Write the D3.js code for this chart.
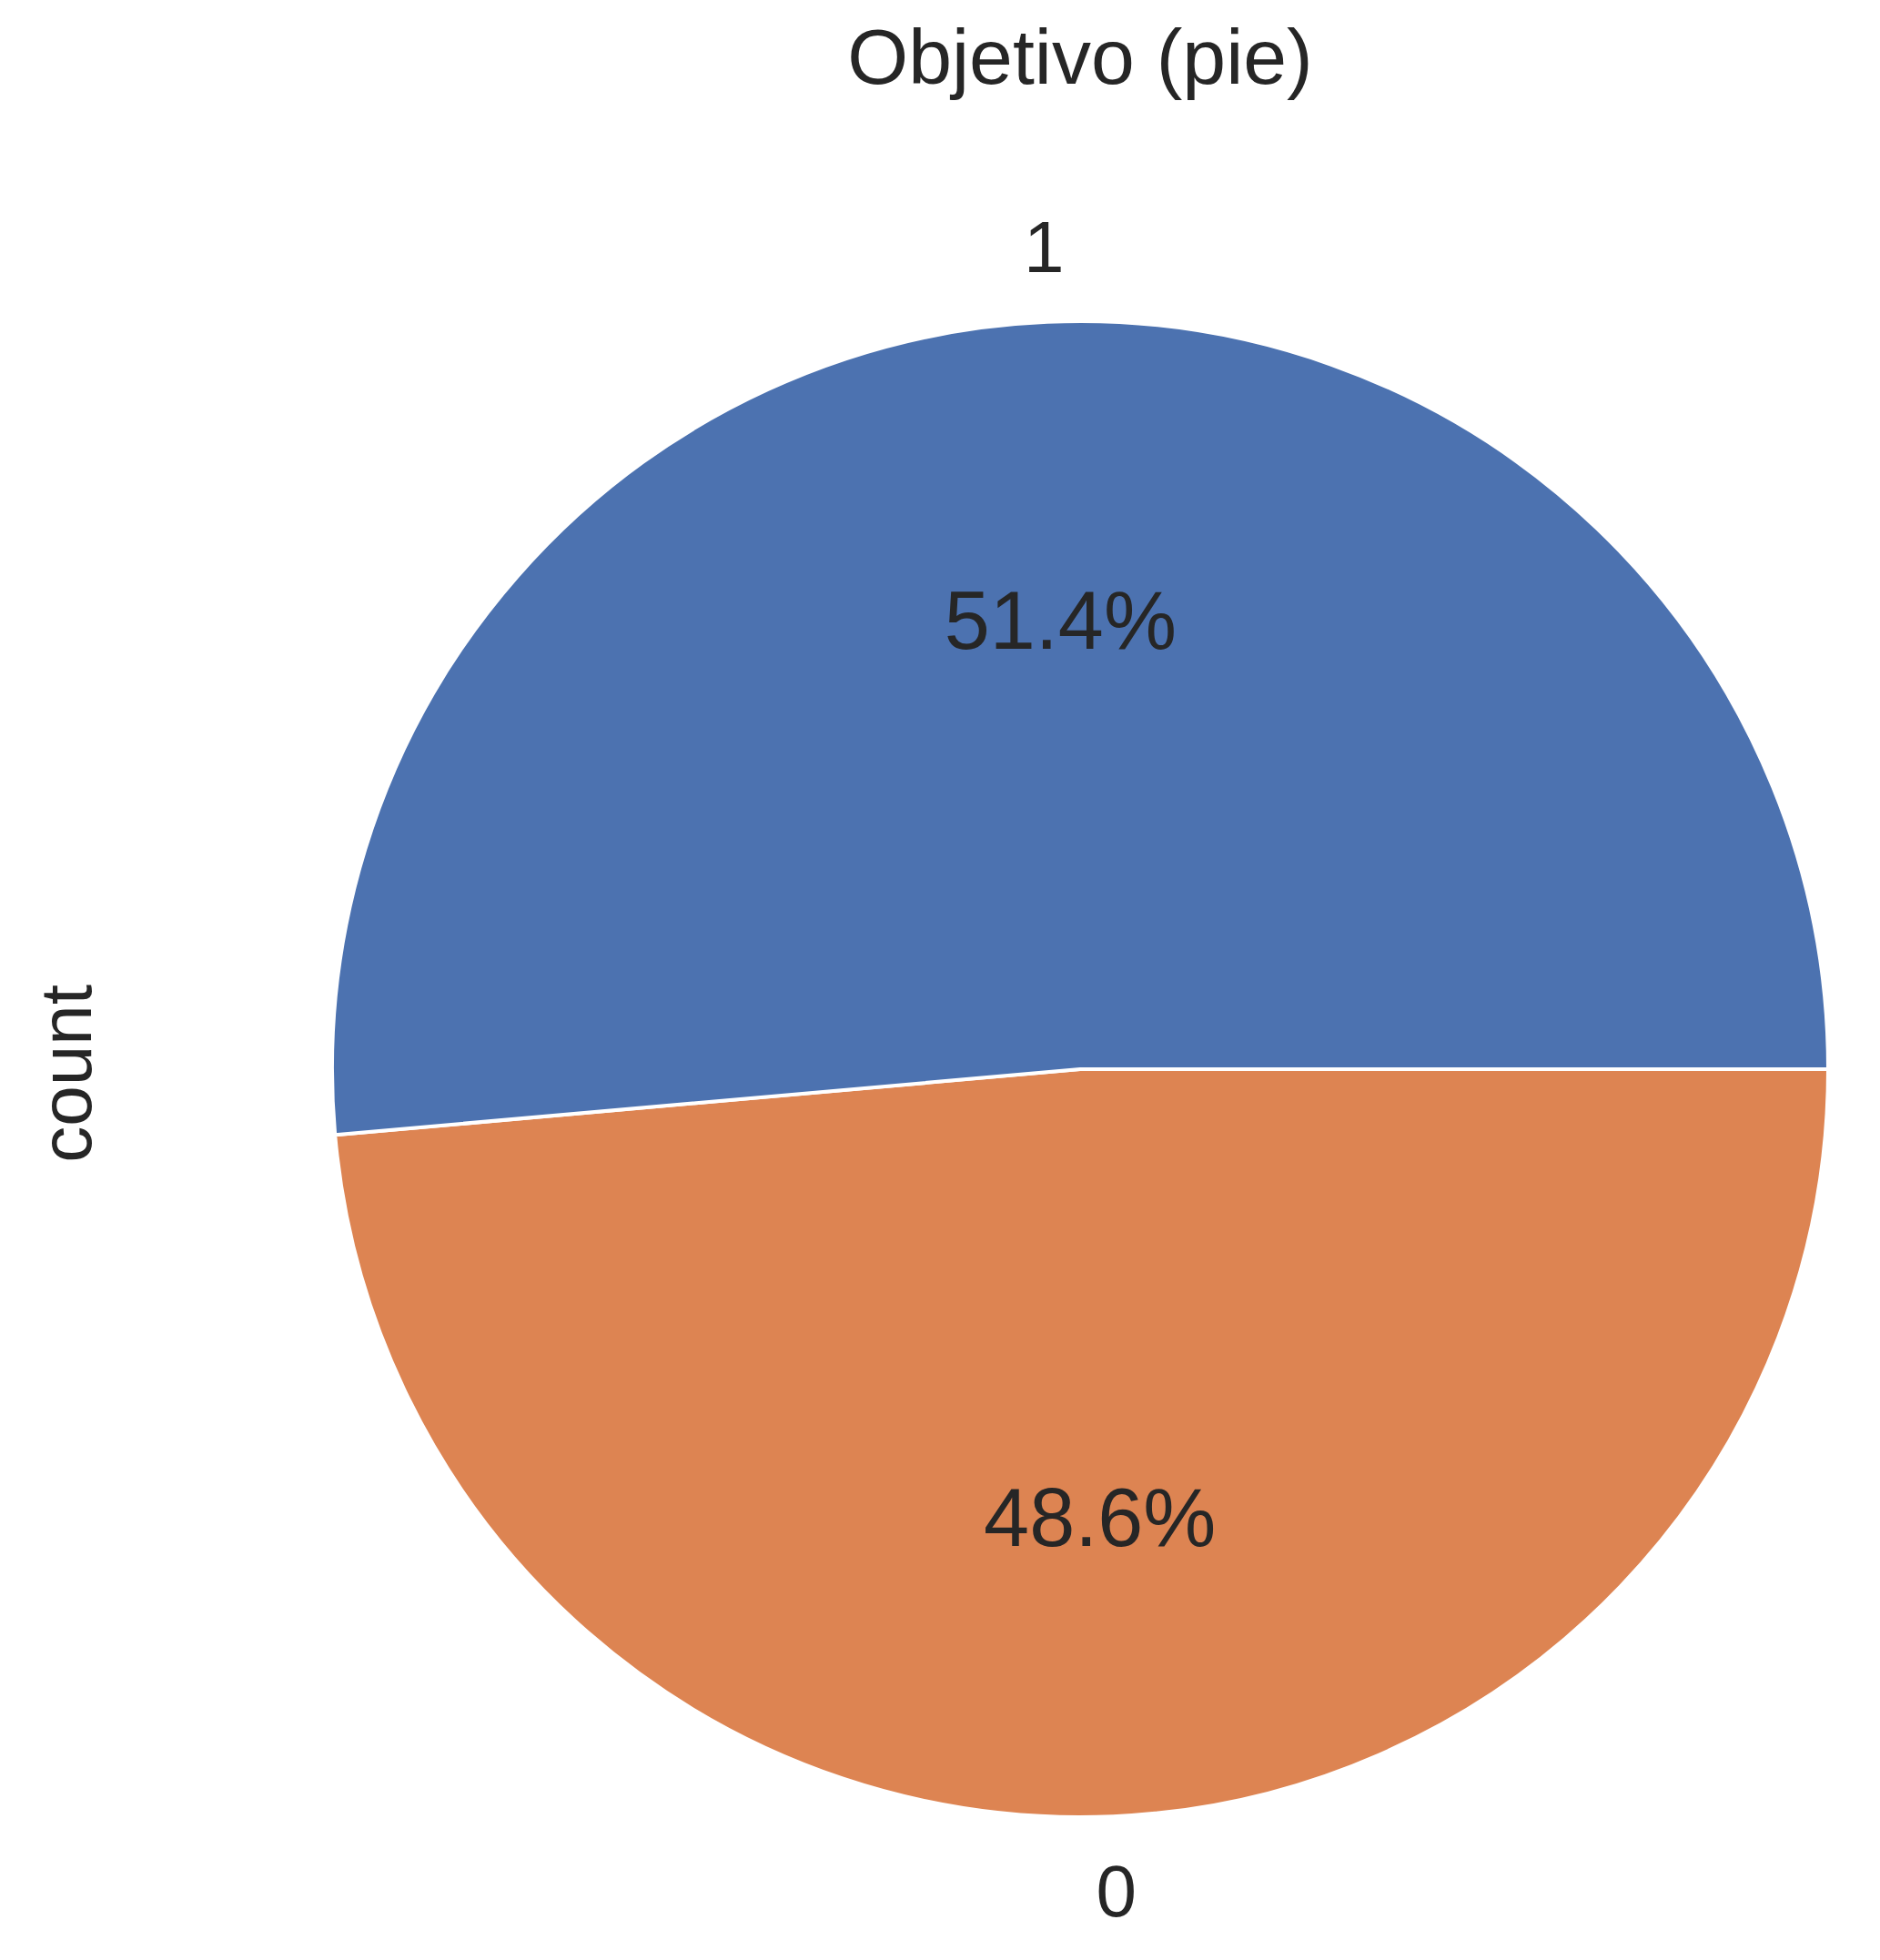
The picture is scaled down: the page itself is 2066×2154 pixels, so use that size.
<!DOCTYPE html>
<html><head><meta charset="utf-8">
<script src="https://cdn.jsdelivr.net/npm/d3@7"></script>
<style>body{margin:0;background:#fff}</style></head>
<body><svg id="c" width="2066" height="2154"></svg>
<script>
const categories = ["0", "1"];
const values = [48.6, 51.4];
const colors = ["#dd8452", "#4c72b0"];
const title = "Objetivo (pie)";
const ylabel = "count";

const svg = d3.select("#c");
const cx = 1187, cy = 1175, R = 822;
const font = "Liberation Sans, Arial, sans-serif";
const g = svg.append("g").attr("transform", `translate(${cx},${cy})`);
const pie = d3.pie().sort(null).value(d => d.v).startAngle(Math.PI/2).endAngle(Math.PI/2 + 2*Math.PI);
const data = pie(categories.map((c, i) => ({c, v: values[i], col: colors[i]})));
const arc = d3.arc().innerRadius(0).outerRadius(R);
g.selectAll("path").data(data).join("path").attr("d", arc)
  .attr("fill", d => d.data.col).attr("stroke", "#fff").attr("stroke-width", 4).attr("stroke-linejoin", "round");
const pos = (d, r) => { const a = (d.startAngle + d.endAngle)/2; return [r*Math.sin(a), -r*Math.cos(a)]; };
g.selectAll("text.pct").data(data).join("text")
  .attr("x", d => pos(d, R*0.6)[0]).attr("y", d => pos(d, R*0.6)[1])
  .attr("text-anchor", "middle").attr("dominant-baseline", "central")
  .attr("font-family", font).attr("font-size", 90).attr("fill", "#262626")
  .text(d => d.data.v.toFixed(1) + "%");
g.selectAll("text.lab").data(data).join("text")
  .attr("x", d => pos(d, R*1.1)[0]).attr("y", d => pos(d, R*1.1)[1])
  .attr("text-anchor", "middle").attr("dominant-baseline", "central")
  .attr("font-family", font).attr("font-size", 80).attr("fill", "#262626")
  .text(d => d.data.c);
svg.append("text").attr("x", 1187).attr("y", 62).attr("text-anchor", "middle").attr("dominant-baseline", "central")
  .attr("font-family", font).attr("font-size", 86).attr("fill", "#262626").text(title);
svg.append("text").attr("transform", "translate(72,1180) rotate(-90)").attr("text-anchor", "middle").attr("dominant-baseline", "central")
  .attr("font-family", font).attr("font-size", 80).attr("fill", "#262626").text(ylabel);
</script></body></html>
